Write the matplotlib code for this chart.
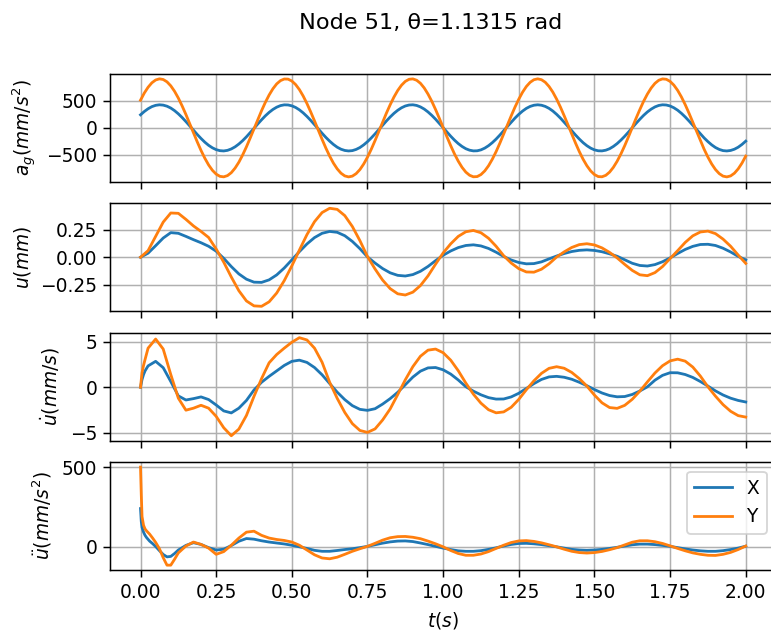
import numpy as np
import matplotlib
matplotlib.use("Agg")
import matplotlib.pyplot as plt
from matplotlib.ticker import MultipleLocator

# sample times (s)
t_ag = np.linspace(0.0, 2.0, 161)
t = np.linspace(0.0, 2.0, 81)
t_vel_early = [0.0, 0.005, 0.01, 0.015]
t_acc_early = [0.0, 0.0025, 0.005, 0.01, 0.015, 0.02, 0.03, 0.04, 0.05,
               0.0625, 0.075, 0.0875, 0.1, 0.1125, 0.125]

# ground acceleration (mm/s^2)
ag_x = [241, 302, 353, 392, 416, 426, 420, 400, 366, 318,
        259, 191, 116, 37, -43, -122, -196, -264, -322, -368,
        -402, -421, -426, -415, -389, -350, -298, -236, -165, -88,
        -9, 72, 149, 222, 286, 340, 382, 411, 425, 423,
        407, 377, 333, 277, 211, 138, 60, -20, -100, -176,
        -245, -306, -357, -394, -417, -426, -420, -398, -363, -314,
        -255, -186, -111, -32, 49, 127, 201, 268, 325, 371,
        404, 422, 426, 414, 387, 347, 294, 231, 160, 83,
        3, -77, -154, -226, -290, -343, -385, -412, -425, -423,
        -406, -374, -329, -273, -207, -133, -55, 26, 105, 181,
        250, 310, 360, 396, 418, 426, 418, 396, 360, 311,
        250, 181, 105, 26, -54, -132, -206, -273, -329, -374,
        -406, -423, -425, -412, -385, -343, -290, -226, -155, -78,
        3, 83, 159, 231, 294, 346, 387, 414, 426, 422,
        404, 371, 326, 268, 201, 127, 49, -31, -110, -186,
        -254, -314, -363, -398, -420, -426, -417, -394, -357, -306,
        -245]
ag_y = [511, 643, 750, 832, 884, 905, 893, 850, 776, 675,
        550, 405, 247, 79, -91, -259, -417, -560, -684, -783,
        -854, -895, -904, -881, -827, -743, -634, -500, -350, -187,
        -18, 152, 317, 471, 607, 722, 812, 872, 902, 900,
        865, 800, 707, 588, 449, 293, 128, -43, -212, -373,
        -521, -651, -757, -837, -887, -905, -891, -845, -770, -667,
        -541, -395, -235, -67, 103, 271, 427, 569, 691, 788,
        858, 897, 904, 879, 823, 737, 624, 491, 339, 176,
        6, -164, -328, -481, -615, -729, -817, -875, -903, -899,
        -862, -795, -700, -579, -439, -282, -116, 54, 223, 384,
        530, 659, 764, 841, 889, 905, 889, 842, 764, 660,
        531, 385, 224, 55, -115, -281, -438, -579, -699, -795,
        -862, -899, -903, -876, -817, -729, -616, -481, -329, -165,
        5, 176, 338, 491, 624, 736, 822, 879, 904, 897,
        858, 789, 692, 570, 428, 271, 104, -66, -234, -395,
        -540, -667, -770, -845, -891, -905, -887, -837, -757, -651,
        -521]

# displacement (mm)
u_x = [0.0, 0.037, 0.105, 0.175, 0.224, 0.218, 0.19, 0.16, 0.132, 0.1,
       0.055, -0.01, -0.085, -0.152, -0.2, -0.227, -0.229, -0.206, -0.161, -0.098,
       -0.024, 0.051, 0.121, 0.179, 0.218, 0.235, 0.227, 0.196, 0.144, 0.078,
       0.003, -0.053, -0.103, -0.142, -0.165, -0.171, -0.158, -0.128, -0.084, -0.031,
       0.018, 0.057, 0.088, 0.107, 0.113, 0.103, 0.08, 0.046, 0.007, -0.025,
       -0.048, -0.06, -0.058, -0.042, -0.015, 0.011, 0.034, 0.052, 0.063, 0.067,
       0.062, 0.05, 0.031, 0.009, -0.023, -0.055, -0.075, -0.08, -0.067, -0.041,
       -0.006, 0.034, 0.071, 0.099, 0.116, 0.118, 0.107, 0.082, 0.048, 0.008,
       -0.024]
u_y = [0.0, 0.06, 0.19, 0.32, 0.403, 0.4, 0.345, 0.285, 0.235, 0.18,
       0.075, -0.045, -0.18, -0.305, -0.398, -0.443, -0.447, -0.406, -0.326, -0.213,
       -0.079, 0.065, 0.206, 0.324, 0.407, 0.446, 0.436, 0.379, 0.28, 0.151,
       0.006, -0.107, -0.208, -0.286, -0.333, -0.344, -0.318, -0.258, -0.17, -0.063,
       0.039, 0.122, 0.19, 0.232, 0.244, 0.223, 0.173, 0.1, 0.014, -0.053,
       -0.104, -0.134, -0.136, -0.109, -0.06, 0.002, 0.049, 0.089, 0.115, 0.123,
       0.112, 0.085, 0.044, -0.006, -0.065, -0.12, -0.16, -0.168, -0.14, -0.085,
       -0.012, 0.06, 0.135, 0.195, 0.23, 0.238, 0.215, 0.165, 0.1, 0.02,
       -0.056]

# velocity (mm/s): early points, then the 0.025 s grid from 0.025
v_x = [0.0, 0.85, 1.39, 1.8,
       2.35, 2.85, 2.15, 0.63, -0.95, -1.4, -1.25, -1.06, -1.35, -1.95,
       -2.6, -2.82, -2.3, -1.45, -0.3, 0.55, 1.2, 1.8, 2.4, 2.85,
       2.98, 2.73, 2.17, 1.37, 0.41, -0.54, -1.36, -2.02, -2.43, -2.54,
       -2.36, -1.85, -1.25, -0.55, 0.28, 1.12, 1.77, 2.13, 2.17, 1.92,
       1.45, 0.8, 0.06, -0.43, -0.83, -1.14, -1.3, -1.29, -1.06, -0.66,
       -0.13, 0.4, 0.86, 1.14, 1.2, 1.1, 0.88, 0.55, 0.17, -0.25,
       -0.63, -0.91, -1.05, -1.02, -0.79, -0.41, 0.05, 0.78, 1.31, 1.6,
       1.59, 1.4, 1.08, 0.63, 0.13, -0.4, -0.85, -1.2, -1.45, -1.62]
v_y = [0.0, 1.6, 2.4, 3.05,
       4.3, 5.3, 4.2, 1.4, -1.2, -2.52, -2.3, -1.98, -2.3, -3.2,
       -4.45, -5.33, -4.6, -3.1, -1.0, 0.95, 2.69, 3.6, 4.3, 4.95,
       5.45, 5.2, 4.3, 2.75, 0.55, -1.22, -2.77, -4.0, -4.75, -4.96,
       -4.58, -3.6, -2.38, -0.8, 0.82, 2.27, 3.41, 4.08, 4.2, 3.8,
       2.98, 1.82, 0.46, -0.76, -1.75, -2.47, -2.81, -2.71, -2.2, -1.33,
       -0.27, 0.71, 1.53, 2.08, 2.26, 2.09, 1.63, 0.95, 0.13, -0.86,
       -1.71, -2.23, -2.32, -1.99, -1.32, -0.43, 0.59, 1.57, 2.37, 2.9,
       3.09, 2.87, 2.22, 1.23, 0.05, -0.98, -1.91, -2.64, -3.12, -3.28]

# acceleration (mm/s^2): early points, then the 0.025 s grid from 0.15
a_x = [240, 160, 122, 92, 72, 58, 36, 20, 2, -24, -48, -63, -60, -42, -20,
       9, 26, 15, -5, -20, -15, 8, 35, 52, 48,
       38, 30, 24, 18, 10, 0, -10, -22, -28, -28,
       -23, -17, -12, -5, 3, 13, 23, 31, 36, 37,
       33, 24, 14, 3, -8, -17, -25, -28, -28, -24,
       -16, -6, 5, 15, 21, 22, 19, 14, 7, 0,
       -8, -16, -20, -22, -20, -16, -10, -3, 5, 13,
       17, 17, 14, 9, 3, -5, -13, -20, -25, -28,
       -28, -24, -17, -8, 4]
a_y = [500, 330, 190, 135, 112, 100, 80, 55, 28, -12, -68, -115, -115, -78, -38,
       5, 30, 15, -8, -47, -30, 10, 55, 92, 98,
       72, 55, 46, 40, 30, 10, -20, -50, -70, -75,
       -65, -47, -28, -12, 3, 22, 42, 57, 64, 65,
       60, 51, 36, 19, 0, -23, -42, -53, -53, -45,
       -30, -10, 10, 27, 37, 39, 34, 25, 13, 0,
       -15, -28, -36, -39, -36, -29, -18, -5, 12, 29,
       38, 38, 32, 21, 6, -10, -25, -38, -47, -53,
       -54, -47, -35, -17, 5]

t_vel = np.concatenate([t_vel_early, t[1:]])
t_acc = np.concatenate([t_acc_early, t[6:]])

dpi = 134
fig, axes = plt.subplots(4, 1, sharex=True, figsize=(771 / dpi, 632 / dpi), dpi=dpi)
fig.subplots_adjust(left=0.143, right=1.0065, top=0.883, bottom=0.098, hspace=0.2)

panels = [
    (t_ag, ag_x, ag_y, r"$a_g(mm/s^2)$", [-500, 0, 500]),
    (t, u_x, u_y, r"$u(mm)$", [-0.25, 0.0, 0.25]),
    (t_vel, v_x, v_y, r"$\dot{u}(mm/s)$", [-5, 0, 5]),
    (t_acc, a_x, a_y, r"$\ddot{u}(mm/s^2)$", [0, 500]),
]

for ax, (tt, sx, sy, label, yticks) in zip(axes, panels):
    ax.plot(tt, sx, label="X")
    ax.plot(tt, sy, label="Y")
    ax.set_ylabel(label)
    ax.set_yticks(yticks)
    ax.grid(True)

axes[-1].xaxis.set_major_locator(MultipleLocator(0.25))
axes[-1].set_xlabel(r"$t(s)$")
axes[-1].legend(loc="upper right")

fig.suptitle("Node 51, θ=1.1315 rad", x=0.559)

fig.savefig("out.png", dpi=dpi)
